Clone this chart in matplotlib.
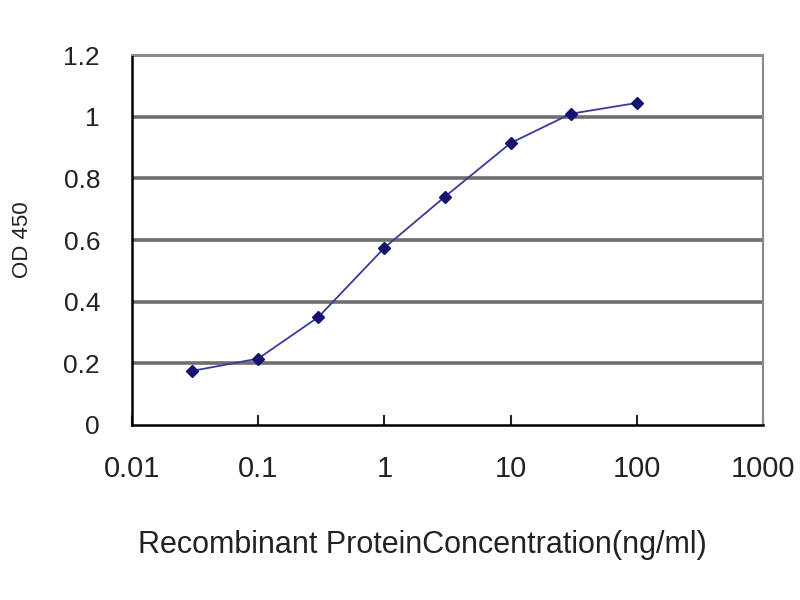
import matplotlib
matplotlib.use('Agg')
import matplotlib.pyplot as plt
from matplotlib.ticker import FixedLocator, FixedFormatter, NullLocator

# Data
concentration = [0.03, 0.1, 0.3, 1, 3, 10, 30, 100]
od450 = [0.175, 0.215, 0.35, 0.575, 0.74, 0.915, 1.01, 1.045]

x_ticks = [0.01, 0.1, 1, 10, 100, 1000]
x_tick_labels = ['0.01', '0.1', '1', '10', '100', '1000']
y_ticks = [0, 0.2, 0.4, 0.6, 0.8, 1.0, 1.2]
y_tick_labels = ['0', '0.2', '0.4', '0.6', '0.8', '1', '1.2']

plt.rcParams['font.family'] = ['Liberation Sans', 'DejaVu Sans']

fig = plt.figure(figsize=(8, 6), dpi=100)
ax = fig.add_axes([0.165, 0.292, 0.789, 0.616])

# gridlines (Excel style, dark grey)
for y in y_ticks[1:]:
    ax.axhline(y, color='#6e6e6e', linewidth=2.6, zorder=1)

ax.plot(concentration, od450, color='#3a3a9a', linewidth=1.3, marker='D',
        markersize=6, markerfacecolor='#14146e', markeredgecolor='#14146e', zorder=3)

ax.set_xscale('log')
ax.set_xlim(0.01, 1000)
ax.set_ylim(0, 1.2)

ax.xaxis.set_major_locator(FixedLocator(x_ticks))
ax.xaxis.set_major_formatter(FixedFormatter(x_tick_labels))
ax.xaxis.set_minor_locator(NullLocator())
ax.yaxis.set_major_locator(FixedLocator(y_ticks))
ax.yaxis.set_major_formatter(FixedFormatter(y_tick_labels))

ax.tick_params(axis='x', direction='in', length=7, width=1.5, pad=22,
               labelsize=21, colors='#222222')
ax.tick_params(axis='y', length=0, pad=23, labelsize=19, colors='#222222')

for side in ['left', 'bottom']:
    ax.spines[side].set_color('black')
    ax.spines[side].set_linewidth(1.8)
for side in ['top', 'right']:
    ax.spines[side].set_color('#8a8a8a')
    ax.spines[side].set_linewidth(1.5)

ax.set_xlabel('Recombinant ProteinConcentration(ng/ml)', fontsize=22,
              color='#222222', family=['Liberation Sans'])
ax.xaxis.set_label_coords(0.46, -0.285)
ax.set_ylabel('OD 450', fontsize=16, labelpad=22, color='#222222',
              family=['Liberation Sans'])

fig.savefig('out.png', dpi=100)
